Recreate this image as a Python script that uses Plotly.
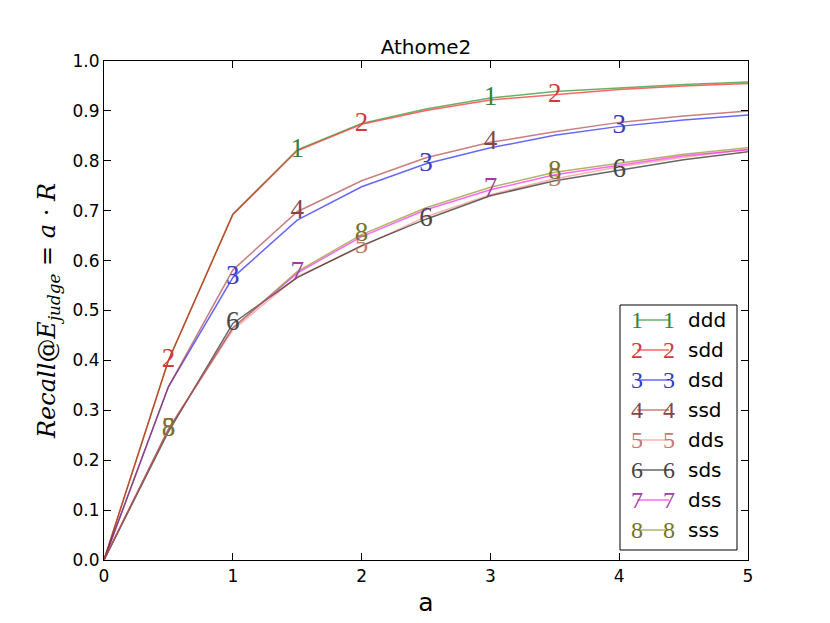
import plotly.graph_objects as go

# data
a_vals = [0, 0.5, 1, 1.5, 2, 2.5, 3, 3.5, 4, 4.5, 5]

names = ["ddd", "sdd", "dsd", "ssd", "dds", "sds", "dss", "sss"]
ddd = [0, 0.40, 0.693, 0.822, 0.875, 0.904, 0.926, 0.939, 0.946, 0.953, 0.958]
sdd = [0, 0.40, 0.692, 0.820, 0.873, 0.901, 0.922, 0.932, 0.943, 0.950, 0.955]
dsd = [0, 0.347, 0.566, 0.681, 0.748, 0.794, 0.826, 0.851, 0.869, 0.882, 0.892]
ssd = [0, 0.347, 0.581, 0.698, 0.760, 0.806, 0.837, 0.858, 0.877, 0.890, 0.900]
dds = [0, 0.262, 0.461, 0.568, 0.628, 0.688, 0.732, 0.764, 0.788, 0.807, 0.823]
sds = [0, 0.257, 0.474, 0.566, 0.630, 0.683, 0.730, 0.760, 0.781, 0.802, 0.818]
dss = [0, 0.262, 0.465, 0.575, 0.648, 0.702, 0.742, 0.772, 0.791, 0.810, 0.822]
sss = [0, 0.262, 0.465, 0.578, 0.652, 0.706, 0.747, 0.777, 0.795, 0.813, 0.826]
series = [ddd, sdd, dsd, ssd, dds, sds, dss, sss]

# indices where each curve carries its digit marker
mark_idx = [[3, 6], [1, 4, 7], [2, 5, 8], [3, 6], [1, 4, 7], [2, 5, 8], [3, 6], [1, 4, 7]]

line_colors = [
    "rgba(0,128,0,0.6)", "rgba(255,0,0,0.6)", "rgba(0,0,255,0.6)",
    "rgba(165,42,42,0.6)", "rgba(250,128,114,0.6)", "rgba(0,0,0,0.6)",
    "rgba(255,0,255,0.6)", "rgba(128,128,0,0.6)",
]
digit_colors = [
    "#3d7f3d", "#d23a3a", "#3a3ac0", "#844646",
    "#c47a6c", "#474747", "#a33aa3", "#74742a",
]

DIGIT_FONT = "Liberation Serif"

# the page body has an 8px margin, so the figure is nudged up/left by 8px
SHIFT = 8
L, R, T, B = 104 - SHIFT, 82 + SHIFT, 61 - SHIFT, 63 + SHIFT
PW, PH = 830 - L - R, 623 - T - B


def px_x(px):
    return (px - 104) / PW


def px_y(py):
    return (560 - py) / PH


fig = go.Figure()

for i, (name, ys) in enumerate(zip(names, series)):
    fig.add_trace(go.Scatter(
        x=a_vals, y=ys, mode="lines", name=name,
        line=dict(color=line_colors[i], width=1.5),
        showlegend=False,
    ))
for i, (name, ys) in enumerate(zip(names, series)):
    fig.add_trace(go.Scatter(
        x=[a_vals[k] for k in mark_idx[i]], y=[ys[k] for k in mark_idx[i]],
        mode="text", name=name, text=[str(i + 1)] * len(mark_idx[i]),
        textposition="middle center",
        textfont=dict(family=DIGIT_FONT, size=27, color=digit_colors[i]),
        showlegend=False, cliponaxis=False,
    ))

# hand-made legend box (matplotlib style: digit at both ends of the line)
fig.add_shape(type="rect", xref="paper", yref="paper",
              x0=px_x(620), x1=px_x(737), y0=px_y(550), y1=px_y(305),
              line=dict(color="black", width=1), fillcolor="white", layer="above")
for i, name in enumerate(names):
    yy = px_y(320 + i * 30)
    xa, xb = px_x(637), px_x(669)
    fig.add_shape(type="line", xref="paper", yref="paper",
                  x0=xa, x1=xb, y0=yy, y1=yy,
                  line=dict(color=line_colors[i], width=1.5), layer="above")
    for xd in (xa, xb):
        fig.add_annotation(x=xd, y=yy, xref="paper", yref="paper", text=str(i + 1),
                           showarrow=False, xanchor="center", yanchor="middle",
                           font=dict(family=DIGIT_FONT, size=24, color=digit_colors[i]))
    fig.add_annotation(x=px_x(686), y=yy, xref="paper", yref="paper",
                       text=name, showarrow=False, xanchor="left", yanchor="middle",
                       font=dict(family="DejaVu Sans", size=20, color="black"))

axis_common = dict(
    showline=True, linecolor="black", linewidth=1.2, mirror="allticks",
    ticks="inside", ticklen=7, tickcolor="black", showgrid=False, zeroline=False,
    automargin=False,
    tickfont=dict(family="DejaVu Sans", size=17, color="black"),
)

fig.update_layout(
    width=830, height=623,
    margin=dict(l=L, r=R, t=T, b=B),
    plot_bgcolor="white", paper_bgcolor="white",
    title=dict(text="Athome2", x=0.5, xref="paper", xanchor="center",
               y=1 - (47 - SHIFT) / 623, yanchor="middle",
               font=dict(family="DejaVu Sans", size=20, color="black")),
    xaxis=dict(range=[0, 5], dtick=1, tickformat="d",
               title=dict(text="a", standoff=8,
                          font=dict(family="DejaVu Sans", size=25, color="black")),
               **axis_common),
    yaxis=dict(range=[0, 1], dtick=0.1, tickformat=".1f",
               title=dict(text="<i>Recall</i>@<i>E</i><sub><i>judge</i></sub> = <i>a</i> · <i>R</i>",
                          standoff=10,
                          font=dict(family="DejaVu Serif", size=24, color="black")),
               **axis_common),
)

fig.write_html("out.html")
